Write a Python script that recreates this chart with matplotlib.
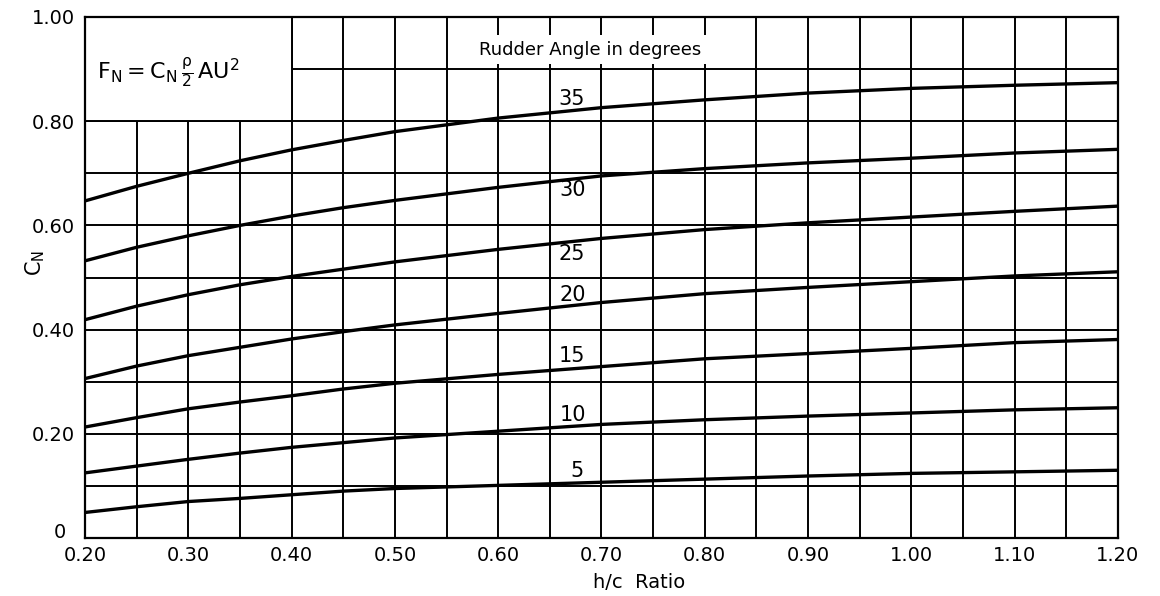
import matplotlib
matplotlib.use("Agg")
import matplotlib.pyplot as plt
from matplotlib.patches import Rectangle

plt.rcParams['font.family'] = ['DejaVu Sans']
plt.rcParams['mathtext.fontset'] = 'dejavusans'

# h/c ratio sample points
hc_ratio = [0.20, 0.25, 0.30, 0.35, 0.40, 0.45, 0.50, 0.60, 0.70, 0.80, 0.90, 1.00, 1.10, 1.20]

# normal-force coefficient C_N for each rudder angle (degrees)
cn_35 = [0.647, 0.675, 0.700, 0.724, 0.745, 0.763, 0.780, 0.806, 0.826, 0.841, 0.854, 0.863, 0.869, 0.874]
cn_30 = [0.532, 0.558, 0.580, 0.600, 0.618, 0.634, 0.648, 0.673, 0.695, 0.709, 0.720, 0.729, 0.739, 0.746]
cn_25 = [0.419, 0.445, 0.467, 0.486, 0.502, 0.516, 0.530, 0.554, 0.575, 0.592, 0.605, 0.616, 0.627, 0.637]
cn_20 = [0.306, 0.330, 0.350, 0.366, 0.382, 0.396, 0.409, 0.431, 0.452, 0.469, 0.481, 0.492, 0.503, 0.511]
cn_15 = [0.213, 0.231, 0.248, 0.261, 0.273, 0.286, 0.297, 0.314, 0.329, 0.344, 0.354, 0.364, 0.375, 0.381]
cn_10 = [0.125, 0.138, 0.151, 0.163, 0.174, 0.183, 0.192, 0.205, 0.218, 0.227, 0.234, 0.240, 0.246, 0.250]
cn_5 = [0.049, 0.060, 0.070, 0.076, 0.083, 0.090, 0.095, 0.101, 0.107, 0.113, 0.119, 0.124, 0.127, 0.130]

angle_labels = ["35", "30", "25", "20", "15", "10", "5"]
curves = [cn_35, cn_30, cn_25, cn_20, cn_15, cn_10, cn_5]
# label anchor points (h/c, C_N)
label_x = [0.671, 0.672, 0.671, 0.672, 0.671, 0.672, 0.676]
label_y = [0.842, 0.668, 0.546, 0.466, 0.350, 0.236, 0.128]

x_ticks = [0.20, 0.30, 0.40, 0.50, 0.60, 0.70, 0.80, 0.90, 1.00, 1.10, 1.20]
x_ticklabels = ["0.20", "0.30", "0.40", "0.50", "0.60", "0.70", "0.80", "0.90", "1.00", "1.10", "1.20"]
y_ticks = [0.0, 0.2, 0.4, 0.6, 0.8, 1.0]
y_ticklabels = ["0", "0.20", "0.40", "0.60", "0.80", "1.00"]

fig = plt.figure(figsize=(11.6, 5.96), dpi=100)
ax = fig.add_axes([85 / 1160, 1 - 538 / 596, (1118 - 85) / 1160, (538 - 17) / 596])

ax.set_xlim(0.20, 1.20)
ax.set_ylim(0.0, 1.0)

# grid: every 0.05 in h/c, every 0.10 in C_N
ax.set_xticks(x_ticks)
ax.set_xticklabels(x_ticklabels, fontsize=14)
ax.set_xticks([0.25 + 0.1 * i for i in range(10)], minor=True)
ax.set_yticks(y_ticks)
# the zero label sits a little apart from the corner
ax.set_yticklabels([""] + y_ticklabels[1:], fontsize=14)
ax.text(0.176, 0.010, y_ticklabels[0], fontsize=14, ha='center', va='center')
ax.set_yticks([0.1, 0.3, 0.5, 0.7, 0.9], minor=True)
ax.tick_params(which='both', length=0)
ax.tick_params(axis='x', pad=6)
ax.tick_params(axis='y', pad=7)
ax.grid(which='both', color='black', linewidth=1.4, zorder=1)
ax.set_axisbelow(True)
for sp in ax.spines.values():
    sp.set_linewidth(1.6)
    sp.set_color('black')

# formula panel in the upper-left corner
ax.add_patch(Rectangle((0.20, 0.80), 0.20, 0.20, facecolor='white',
                       edgecolor='black', linewidth=1.4, zorder=2))
ax.text(0.212, 0.893, r"$\mathregular{F_N = C_N\,\frac{\rho}{2}\,AU^2}$",
        fontsize=16, ha='left', va='center', zorder=3)

ax.text(0.689, 0.937, "Rudder Angle in degrees", fontsize=13,
        ha='center', va='center', zorder=3,
        bbox=dict(facecolor='white', edgecolor='none', pad=4))

for vals, lab, lx, ly in zip(curves, angle_labels, label_x, label_y):
    ax.plot(hc_ratio, vals, color='black', linewidth=2.4, zorder=4,
            solid_capstyle='butt', solid_joinstyle='round')
    ax.text(lx, ly, lab, fontsize=15, ha='center', va='center', zorder=5)

fig.text(35 / 1160, 1 - 263 / 596, r"$\mathregular{C_N}$", rotation=90,
         fontsize=15, ha='center', va='center')
fig.text(639 / 1160, 1 - 582 / 596, "h/c  Ratio", fontsize=14,
         ha='center', va='center')

fig.savefig("out.png", dpi=100, facecolor='white')
